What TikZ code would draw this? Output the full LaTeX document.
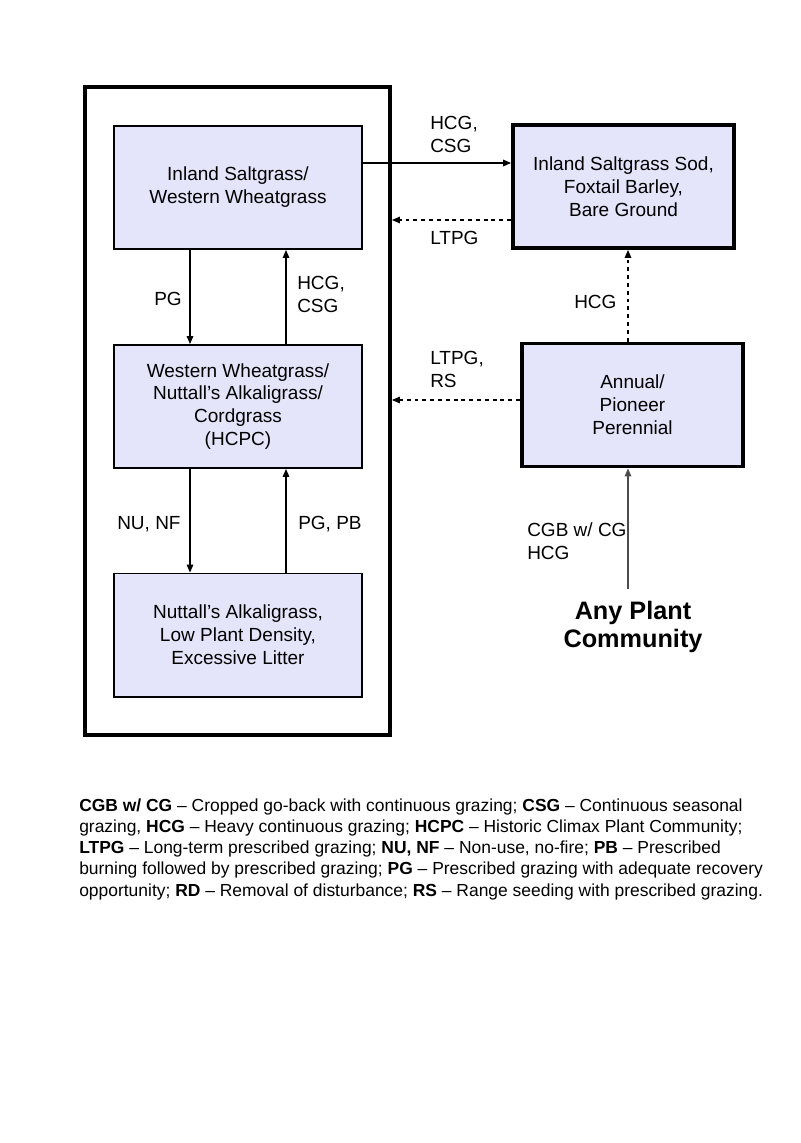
\documentclass[tikz,border=0pt]{standalone}
\usepackage{fontspec}
\setmainfont{Liberation Sans}
\usetikzlibrary{arrows.meta, calc}
\definecolor{boxfill}{RGB}{228,228,250}

\begin{document}
\begin{tikzpicture}[x=0.027cm, y=-0.027cm,
    statebox/.style={draw, line width=1.5pt, fill=boxfill, minimum width=6.696cm, minimum height=3.321cm, align=center, inner sep=0pt, font=\fontsize{14.6}{17.6}\selectfont},
    sidebox/.style={statebox, line width=3pt, minimum width=5.967cm},
    flow/.style={line width=0.8pt, -{Triangle[length=6pt, width=5pt]}},
    lbl/.style={anchor=base west, align=left, inner sep=0pt, font=\fontsize{14.6}{17.6}\selectfont}]
    \useasboundingbox (0,0) rectangle (800,1143);

    \node[draw, line width=3pt, minimum width=8.235cm, minimum height=17.496cm, inner sep=0pt] (frame) at (237.5,411) {};
    \node[statebox] (salt) at (238,187.5) {Inland Saltgrass/\\Western Wheatgrass};
    \node[statebox] (wheat) at (238,406.5) {Western Wheatgrass/\\Nuttall's Alkaligrass/\\Cordgrass\\(HCPC)};
    \node[statebox] (nutt) at (238,635) {Nuttall's Alkaligrass,\\Low Plant Density,\\Excessive Litter};
    \node[sidebox] (sod) at (623.5,186.5) {Inland Saltgrass Sod,\\Foxtail Barley,\\Bare Ground};
    \node[sidebox] (annual) at (632.5,405) {Annual/\\Pioneer\\Perennial};
    \node[align=center, inner sep=0pt, font=\fontsize{19.4}{21.4}\selectfont\bfseries] (any) at (633,627) {Any Plant\\Community};

    \draw[flow] ($(salt.east)+(0,-24.5)$) coordinate (a) -- (a -| sod.west);
    \draw[flow, dashed] ($(sod.west)+(0,33.5)$) coordinate (b) -- (b -| frame.east);
    \draw[flow] ($(salt.south)+(-48,0)$) -- ($(wheat.north)+(-48,0)$);
    \draw[flow] ($(wheat.north)+(48,0)$) -- ($(salt.south)+(48,0)$);
    \draw[flow] ($(wheat.south)+(-48,0)$) -- ($(nutt.north)+(-48,0)$);
    \draw[flow] ($(nutt.north)+(48,0)$) -- ($(wheat.south)+(48,0)$);
    \draw[flow, dashed] ($(annual.north)+(-4.5,0)$) coordinate (c) -- (c |- sod.south);
    \draw[flow, dashed] ($(annual.west)+(0,-5)$) coordinate (d) -- (d -| frame.east);
    \draw[flow, draw=black!70, shorten <=9pt] (any.north -| c) -- (c |- annual.south);

    \node[lbl] (l1) at (430,152) {HCG,\\CSG};
    \node[lbl] (l2) at (430,244.5) {LTPG};
    \node[lbl] (l3) at (154,305.5) {PG};
    \node[lbl] (l4) at (297,312.5) {HCG,\\CSG};
    \node[lbl] (l5) at (430,387.5) {LTPG,\\RS};
    \node[lbl] (l6) at (574,308.5) {HCG};
    \node[lbl] (l7) at (117,529.5) {NU, NF};
    \node[lbl] (l8) at (298,529.5) {PG, PB};
    \node[lbl] (l9) at (527,559.5) {CGB w/ CG\\HCG};

    \node[anchor=base west, align=left, inner sep=0pt, font=\fontsize{13.4}{16.2}\selectfont] (legend) at (79,896) {%
        \textbf{CGB w/ CG} – Cropped go-back with continuous grazing; \textbf{CSG} – Continuous seasonal\\
        grazing, \textbf{HCG} – Heavy continuous grazing; \textbf{HCPC} – Historic Climax Plant Community;\\
        \textbf{LTPG} – Long-term prescribed grazing; \textbf{NU, NF} – Non-use, no-fire; \textbf{PB} – Prescribed\\
        burning followed by prescribed grazing; \textbf{PG} – Prescribed grazing with adequate recovery\\
        opportunity; \textbf{RD} – Removal of disturbance; \textbf{RS} – Range seeding with prescribed grazing.};
\end{tikzpicture}
\end{document}
